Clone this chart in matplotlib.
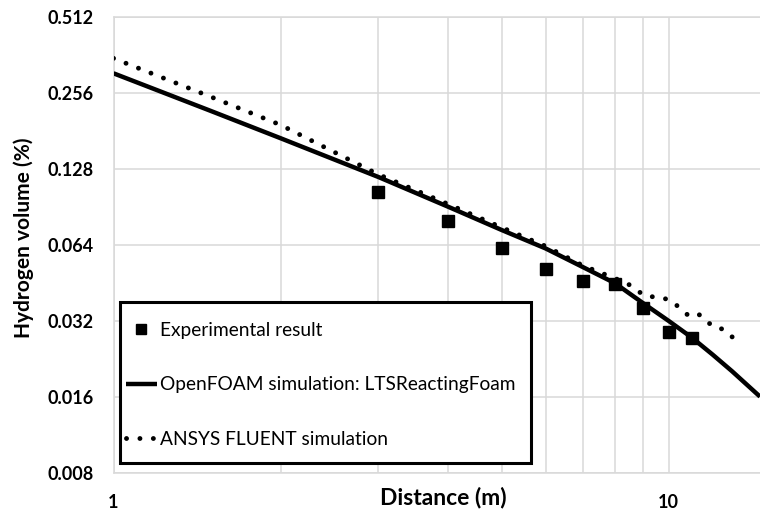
import matplotlib
matplotlib.use("Agg")
import matplotlib.pyplot as plt
from matplotlib.ticker import FixedLocator, NullFormatter
from matplotlib.patches import Rectangle

plt.rcParams['font.family'] = ['Lato', 'DejaVu Sans']

# Experimental data
exp_x = [3, 4, 5, 6, 7, 8, 9, 10, 11]
exp_y = [0.1044, 0.0799, 0.0626, 0.0516, 0.0463, 0.0448, 0.0360, 0.0291, 0.0274]

# OpenFOAM simulation: LTSReactingFoam
of_x = [1, 1.5, 2, 3, 4, 5, 6, 7, 8, 9, 10, 11, 12, 13, 14.6]
of_y = [0.3072, 0.2176, 0.1699, 0.1193, 0.0911, 0.0736, 0.0622, 0.0525,
        0.0453, 0.0377, 0.0321, 0.0276, 0.0236, 0.0203, 0.0161]

# ANSYS FLUENT simulation
an_x = [1, 1.5, 2, 3, 4, 5, 6, 7, 8.41, 9.05, 9.81, 10.18, 10.87, 11.31,
        12.04, 12.51, 13.37]
an_y = [0.3522, 0.2475, 0.1918, 0.1221, 0.0933, 0.0753, 0.0635, 0.0532,
        0.0453, 0.0404, 0.0395, 0.0381, 0.0336, 0.0342, 0.0304, 0.0298, 0.0264]

y_ticks = [0.008, 0.016, 0.032, 0.064, 0.128, 0.256, 0.512]
y_labels = ["0.008", "0.016", "0.032", "0.064", "0.128", "0.256", "0.512"]
x_ticks = [1, 10]
x_labels = ["1", "10"]
x_minor = [2, 3, 4, 5, 6, 7, 8, 9]

W, H = 760, 513
fig = plt.figure(figsize=(W / 100, H / 100), dpi=100)
ax = fig.add_axes([113.5 / W, 1 - 473.3 / H, (760 - 113.5) / W, (473.3 - 17.3) / H])

ax.set_xscale('log')
ax.set_yscale('log', base=2)
ax.set_xlim(1, 14.6)
ax.set_ylim(0.008, 0.512)

grid_c = '#d9d9d9'
ax.set_yticks(y_ticks)
ax.set_yticklabels(y_labels)
ax.yaxis.set_minor_locator(FixedLocator([]))
ax.set_xticks(x_ticks)
ax.set_xticklabels(x_labels)
ax.xaxis.set_minor_locator(FixedLocator(x_minor))
ax.xaxis.set_minor_formatter(NullFormatter())
ax.grid(True, which='major', color=grid_c, linewidth=1.1)
ax.grid(True, which='minor', axis='x', color=grid_c, linewidth=1.1)
ax.set_axisbelow(True)
ax.tick_params(which='both', length=0)
ax.tick_params(axis='y', pad=14)
ax.tick_params(axis='x', pad=15)
for lab in ax.get_xticklabels() + ax.get_yticklabels():
    lab.set_fontsize(13)
    lab.set_fontweight('bold')
for s in ['left', 'bottom', 'top']:
    ax.spines[s].set_color(grid_c)
    ax.spines[s].set_linewidth(1.1)
ax.spines['right'].set_visible(False)

ax.plot(of_x, of_y, color='black', linewidth=3.2, solid_capstyle='butt',
        label='OpenFOAM simulation: LTSReactingFoam', zorder=3)
ax.plot(an_x, an_y, color='black', linewidth=3.5, linestyle=(0, (0.01, 2.75)),
        dash_capstyle='round', label='ANSYS FLUENT simulation', zorder=3)
ax.plot(exp_x, exp_y, linestyle='none', marker='s', markersize=8.5,
        color='black', label='Experimental result', zorder=4)

ax.set_ylabel('Hydrogen volume (%)', fontsize=15, fontweight='bold')
ax.yaxis.set_label_coords((24 - 113.5) / 646.5, (473.3 - 237.5) / 456)
ax.yaxis.label.set_va('center')
ax.set_xlabel('Distance (m)', fontsize=16.5, fontweight='bold')
ax.xaxis.set_label_coords((443 - 113.5) / 646.5, (473.3 - 498) / 456)
ax.xaxis.label.set_va('center')

handles, labels = ax.get_legend_handles_labels()
order = [2, 0, 1]
leg = ax.legend([handles[i] for i in order], [labels[i] for i in order],
                loc='upper left',
                bbox_to_anchor=(126 / W, 1 - 322 / H), bbox_transform=fig.transFigure,
                fontsize=13.8, frameon=False, labelspacing=1.95, handlelength=1.6,
                handletextpad=0.2, borderpad=0, borderaxespad=0, markerscale=0.85)
leg.set_zorder(6)

# legend frame
frame = Rectangle((120 / W, 1 - 462.7 / H), (531 - 120) / W, (462.7 - 301.7) / H,
                  transform=fig.transFigure, facecolor='white',
                  edgecolor='black', linewidth=2.2, zorder=5, clip_on=False)
ax.add_patch(frame)

fig.savefig('out.png', dpi=100)
